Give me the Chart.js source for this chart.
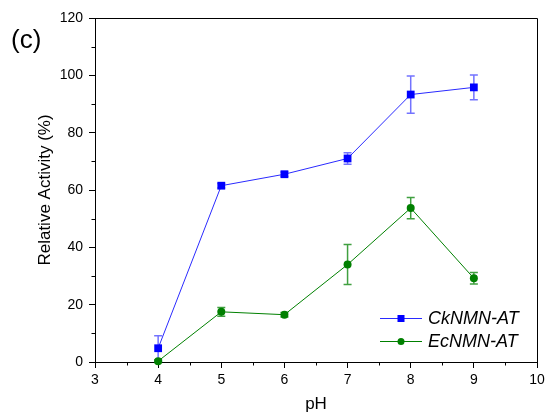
<!DOCTYPE html>
<html><head><meta charset="utf-8">
<script src="https://cdn.jsdelivr.net/npm/chart.js@4/dist/chart.umd.min.js"></script>
<style>html,body{margin:0;padding:0;background:#fff}#w{width:546px;height:416px}</style>
</head><body><div id="w"><canvas id="c" width="546" height="416"></canvas></div>
<script>
const pH = [4, 5, 6, 7, 8, 9];
const ckValues = [4.8, 61.5, 65.5, 71.0, 93.3, 95.8];
const ckErrors = [4.4, 0.8, 0.8, 2.0, 6.5, 4.3];
const ecValues = [0.3, 17.5, 16.5, 34.0, 53.7, 29.2];
const ecErrors = [0.5, 1.5, 0.8, 7.0, 3.7, 2.0];
const seriesLabels = ['CkNMN-AT', 'EcNMN-AT'];
const xTicks = [3, 4, 5, 6, 7, 8, 9, 10];
const yTicks = [0, 20, 40, 60, 80, 100, 120];
const xMinor = [3.5, 4.5, 5.5, 6.5, 7.5, 8.5, 9.5];
const yMinor = [10, 30, 50, 70, 90, 110];
const panelLabel = '(c)';
const xTitle = 'pH';
const yTitle = 'Relative Activity (%)';

const FONT = "'Liberation Sans', Arial, sans-serif";
const errColors = ['rgba(40,40,255,0.65)', 'rgba(0,128,0,0.75)'];
const errData = [ckErrors, ecErrors];

const extras = {
  id: 'extras',
  beforeDatasetsDraw(chart) {
    const ctx = chart.ctx, xs = chart.scales.x, ys = chart.scales.y;
    chart.data.datasets.forEach((ds, i) => {
      ctx.save();
      ctx.strokeStyle = errColors[i];
      ctx.lineWidth = 1.5;
      ds.data.forEach((p, j) => {
        const e = errData[i][j];
        const x = xs.getPixelForValue(p.x);
        const yt = ys.getPixelForValue(p.y + e);
        const yb = ys.getPixelForValue(p.y - e);
        ctx.beginPath();
        ctx.moveTo(x, yt); ctx.lineTo(x, yb);
        ctx.moveTo(x - 4, yt); ctx.lineTo(x + 4, yt);
        ctx.moveTo(x - 4, yb); ctx.lineTo(x + 4, yb);
        ctx.stroke();
      });
      ctx.restore();
    });
  },
  afterDraw(chart) {
    const ctx = chart.ctx, a = chart.chartArea, xs = chart.scales.x, ys = chart.scales.y;
    ctx.save();
    ctx.strokeStyle = '#000';
    ctx.lineWidth = 1;
    ctx.beginPath();
    ctx.moveTo(Math.round(a.left) + 0.5, Math.round(a.top) + 0.5);
    ctx.lineTo(Math.round(a.right) + 0.5, Math.round(a.top) + 0.5);
    ctx.lineTo(Math.round(a.right) + 0.5, Math.round(a.bottom) + 0.5);
    ctx.stroke();
    ctx.beginPath();
    xMinor.forEach(v => {
      const x = Math.round(xs.getPixelForValue(v)) + 0.5;
      ctx.moveTo(x, a.bottom); ctx.lineTo(x, a.bottom + 3.5);
    });
    yMinor.forEach(v => {
      const y = Math.round(ys.getPixelForValue(v)) + 0.5;
      ctx.moveTo(a.left - 3.5, y); ctx.lineTo(a.left, y);
    });
    ctx.stroke();
    ctx.fillStyle = '#000';
    ctx.font = '26px ' + FONT;
    ctx.textBaseline = 'alphabetic';
    ctx.textAlign = 'left';
    ctx.fillText(panelLabel, 11, 48);
    const rows = [318, 341];
    chart.data.datasets.forEach((ds, i) => {
      const y = rows[i];
      ctx.strokeStyle = ds.borderColor;
      ctx.lineWidth = 1;
      ctx.beginPath();
      ctx.moveTo(380, y + 0.5); ctx.lineTo(422, y + 0.5);
      ctx.stroke();
      ctx.fillStyle = ds.pointBackgroundColor;
      if (ds.pointStyle === 'rect') {
        ctx.fillRect(397.5, y - 3, 7, 7);
      } else {
        ctx.beginPath(); ctx.arc(401, y + 0.5, 3.5, 0, Math.PI * 2); ctx.fill();
      }
      ctx.fillStyle = '#000';
      ctx.font = 'italic 18px ' + FONT;
      ctx.textBaseline = 'middle';
      ctx.fillText(ds.label, 428, y + 1);
    });
    ctx.restore();
  }
};

const mk = (vals) => pH.map((x, i) => ({x: x, y: vals[i]}));

new Chart(document.getElementById('c'), {
  type: 'line',
  data: {
    datasets: [
      {label: seriesLabels[0], data: mk(ckValues), borderColor: '#2a2aff', backgroundColor: '#0000ff',
       pointBackgroundColor: '#0000ff', pointBorderColor: '#0000ff', pointStyle: 'rect', pointRadius: 5.5,
       pointBorderWidth: 0, borderWidth: 1, clip: false},
      {label: seriesLabels[1], data: mk(ecValues), borderColor: '#008000', backgroundColor: '#008000',
       pointBackgroundColor: '#008000', pointBorderColor: '#008000', pointStyle: 'circle', pointRadius: 4,
       pointBorderWidth: 0, borderWidth: 1, clip: false}
    ]
  },
  options: {
    animation: false,
    responsive: false,
    devicePixelRatio: 1,
    layout: {padding: {top: 18, right: 9, left: 0, bottom: 0}},
    plugins: {legend: {display: false}, tooltip: {enabled: false}},
    scales: {
      x: {
        type: 'linear', min: 3, max: 10,
        afterBuildTicks: s => { s.ticks = xTicks.map(v => ({value: v})); },
        afterFit: s => { s.height = 54; s.paddingLeft = 0; s.paddingRight = 0; },
        ticks: {color: '#000', font: {family: FONT, size: 14}, padding: 4, maxRotation: 0},
        grid: {drawOnChartArea: false, drawTicks: true, tickLength: 6, color: '#000', lineWidth: 1},
        border: {display: true, color: '#000', width: 1},
        title: {display: true, text: xTitle, color: '#000', font: {family: FONT, size: 17}, padding: {top: 0, bottom: 1}}
      },
      y: {
        type: 'linear', min: 0, max: 120,
        afterBuildTicks: s => { s.ticks = yTicks.map(v => ({value: v})); },
        afterFit: s => { s.width = 95; s.paddingTop = 0; s.paddingBottom = 0; },
        ticks: {color: '#000', font: {family: FONT, size: 14}, padding: 6},
        grid: {drawOnChartArea: false, drawTicks: true, tickLength: 6, color: '#000', lineWidth: 1},
        border: {display: true, color: '#000', width: 1},
        title: {display: true, text: yTitle, color: '#000', font: {family: FONT, size: 17}, padding: {top: 35, bottom: 0}}
      }
    }
  },
  plugins: [extras]
});
</script></body></html>
